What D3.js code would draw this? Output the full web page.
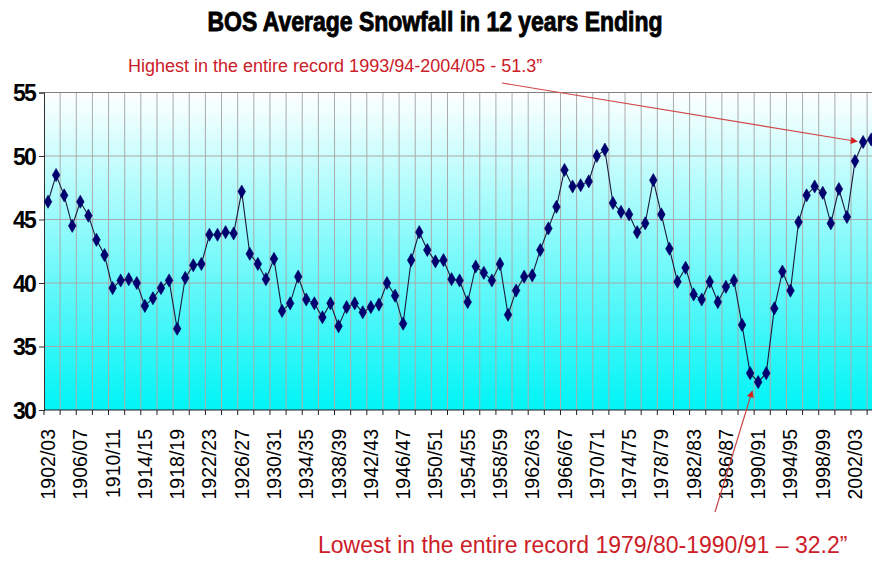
<!DOCTYPE html>
<html>
<head>
<meta charset="utf-8">
<script src="https://cdn.jsdelivr.net/npm/d3@7"></script>
<style>
  html, body { margin: 0; padding: 0; background: #ffffff; }
  svg { display: block; font-family: "Liberation Sans", Arial, sans-serif; }
</style>
</head>
<body>
<svg id="chart" width="872" height="565"></svg>
<script>
// Seasons (12-year window ending in that season)
const seasons = [
  "1902/03","1903/04","1904/05","1905/06","1906/07","1907/08","1908/09","1909/10",
  "1910/11","1911/12","1912/13","1913/14","1914/15","1915/16","1916/17","1917/18",
  "1918/19","1919/20","1920/21","1921/22","1922/23","1923/24","1924/25","1925/26",
  "1926/27","1927/28","1928/29","1929/30","1930/31","1931/32","1932/33","1933/34",
  "1934/35","1935/36","1936/37","1937/38","1938/39","1939/40","1940/41","1941/42",
  "1942/43","1943/44","1944/45","1945/46","1946/47","1947/48","1948/49","1949/50",
  "1950/51","1951/52","1952/53","1953/54","1954/55","1955/56","1956/57","1957/58",
  "1958/59","1959/60","1960/61","1961/62","1962/63","1963/64","1964/65","1965/66",
  "1966/67","1967/68","1968/69","1969/70","1970/71","1971/72","1972/73","1973/74",
  "1974/75","1975/76","1976/77","1977/78","1978/79","1979/80","1980/81","1981/82",
  "1982/83","1983/84","1984/85","1985/86","1986/87","1987/88","1988/89","1989/90",
  "1990/91","1991/92","1992/93","1993/94","1994/95","1995/96","1996/97","1997/98",
  "1998/99","1999/00","2000/01","2001/02","2002/03","2003/04","2004/05"
];

// 12-year average snowfall (inches)
const avgSnowfall = [
  46.4, 48.5, 46.9, 44.5, 46.4, 45.3, 43.4, 42.2, 39.6, 40.2,
  40.3, 40.0, 38.2, 38.8, 39.6, 40.2, 36.4, 40.4, 41.4, 41.5,
  43.8, 43.8, 44.0, 43.9, 47.2, 42.3, 41.5, 40.3, 41.9, 37.8,
  38.4, 40.5, 38.7, 38.4, 37.3, 38.4, 36.6, 38.1, 38.4, 37.7,
  38.1, 38.3, 40.0, 39.0, 36.8, 41.8, 44.0, 42.6, 41.7, 41.8,
  40.3, 40.2, 38.5, 41.3, 40.8, 40.2, 41.5, 37.5, 39.4, 40.5,
  40.6, 42.6, 44.3, 46.0, 48.9, 47.6, 47.7, 48.0, 50.0, 50.5,
  46.3, 45.6, 45.4, 44.0, 44.7, 48.1, 45.4, 42.7, 40.1, 41.2,
  39.1, 38.7, 40.1, 38.5, 39.7, 40.2, 36.7, 32.9, 32.2, 32.9,
  38.0, 40.9, 39.4, 44.8, 46.9, 47.6, 47.1, 44.7, 47.4, 45.2,
  49.6, 51.1, 51.3
];

const yTicks = [30, 35, 40, 45, 50, 55];
const titleText = "BOS Average Snowfall in 12 years Ending";
const highNote = "Highest in the entire record 1993/94-2004/05 - 51.3\u201D";
const lowNote = "Lowest in the entire record 1979/80-1990/91 \u2013 32.2\u201D";
const highSeason = "2004/05";
const lowSeason = "1990/91";

const svg = d3.select("#chart");
const plot = { left: 44, top: 92.5, bottom: 410 };
const bandW = 8.07;

const x = d3.scaleBand()
  .domain(seasons)
  .range([plot.left, plot.left + bandW * seasons.length])
  .paddingInner(0).paddingOuter(0);
const y = d3.scaleLinear().domain([30, 55]).range([plot.bottom, plot.top]);
const cx = s => x(s) + x.bandwidth() / 2;
const plotRight = plot.left + bandW * seasons.length;

// Background gradient: white at top fading into cyan at the base
const defs = svg.append("defs");
const grad = defs.append("linearGradient")
  .attr("id", "bg").attr("x1", 0).attr("y1", 0).attr("x2", 0).attr("y2", 1);
grad.append("stop").attr("offset", "0%").attr("stop-color", "#ffffff");
grad.append("stop").attr("offset", "100%").attr("stop-color", "#00f4f6");

svg.append("rect")
  .attr("x", plot.left).attr("y", plot.top)
  .attr("width", plotRight - plot.left).attr("height", plot.bottom - plot.top)
  .attr("fill", "url(#bg)");

// Vertical gridlines every two seasons
const gridIdx = d3.range(2, seasons.length, 2);
svg.append("g").selectAll("line").data(gridIdx).join("line")
  .attr("x1", i => x(seasons[i])).attr("x2", i => x(seasons[i]))
  .attr("y1", plot.top).attr("y2", plot.bottom)
  .attr("stroke", "#ababab").attr("stroke-width", 1);

// Horizontal gridlines
svg.append("g").selectAll("line").data(yTicks.filter(t => t > 30)).join("line")
  .attr("x1", plot.left).attr("x2", plotRight)
  .attr("y1", d => y(d)).attr("y2", d => y(d))
  .attr("stroke", d => d === 55 ? "#808080" : "#a8a8a8").attr("stroke-width", 1);

// Y axis
const yAxis = d3.axisLeft(y).tickValues(yTicks).tickSize(5).tickPadding(4);
const gy = svg.append("g").attr("transform", `translate(${plot.left},0)`).call(yAxis);
gy.select(".domain").attr("stroke", "#303030");
gy.selectAll(".tick line").attr("stroke", "#303030");
gy.selectAll(".tick text")
  .attr("fill", "#000")
  .style("font-size", "23px").style("font-weight", "bold")
  .style("letter-spacing", "-1.8px")
  .attr("dy", "0.36em");

// X axis: tick marks every two seasons, labels every four
const tickSeasons = seasons.filter((s, i) => i % 2 === 0);
const gx = svg.append("g").attr("transform", `translate(0,${plot.bottom})`);
gx.append("line")
  .attr("x1", plot.left).attr("x2", plotRight)
  .attr("stroke", "#202020").attr("stroke-width", 1.2);
gx.selectAll("line.tk").data(tickSeasons).join("line").attr("class", "tk")
  .attr("x1", d => x(d)).attr("x2", d => x(d))
  .attr("y1", 0).attr("y2", 5)
  .attr("stroke", "#202020");
gx.selectAll("text").data(seasons.filter((s, i) => i % 4 === 0)).join("text")
  .attr("transform", d => `translate(${cx(d) + 7},19) rotate(-90)`)
  .attr("text-anchor", "end")
  .attr("fill", "#000")
  .style("font-size", "19.5px")
  .text(d => d);

// Series line and diamond markers
const pts = seasons.map((s, i) => ({ s, v: avgSnowfall[i] }));
svg.append("path")
  .datum(pts)
  .attr("d", d3.line().x(d => cx(d.s)).y(d => y(d.v)))
  .attr("fill", "none").attr("stroke", "#1a1a3a").attr("stroke-width", 1.1);

const diamond = d3.symbol().type(d3.symbolDiamond).size(50);
svg.append("g").selectAll("path").data(pts).join("path")
  .attr("transform", d => `translate(${cx(d.s)},${y(d.v)})`)
  .attr("d", diamond)
  .attr("fill", "#000070").attr("stroke", "#000060").attr("stroke-width", 0.6);

// Title (heavy, tightly set)
svg.append("text")
  .attr("x", 435).attr("y", 31)
  .attr("text-anchor", "middle")
  .attr("textLength", 455).attr("lengthAdjust", "spacingAndGlyphs")
  .style("font-size", "27px").style("font-weight", "bold")
  .attr("fill", "#000").attr("stroke", "#000").attr("stroke-width", 0.9)
  .text(titleText);

// Annotations with arrows
const red = "#cc2028";
const mk = defs.append("marker")
  .attr("id", "arrow").attr("viewBox", "0 0 10 10")
  .attr("refX", 9).attr("refY", 5)
  .attr("markerWidth", 9).attr("markerHeight", 7)
  .attr("markerUnits", "userSpaceOnUse")
  .attr("orient", "auto");
mk.append("path").attr("d", "M0,0 L10,5 L0,10 Z").attr("fill", "#d42020");

const highIdx = seasons.indexOf(highSeason);
const lowIdx = seasons.indexOf(lowSeason);

svg.append("text")
  .attr("x", 128).attr("y", 72)
  .attr("fill", red)
  .style("font-size", "18px")
  .text(highNote);
svg.append("line")
  .attr("x1", 502).attr("y1", 83)
  .attr("x2", cx(seasons[highIdx - 1]) - 6).attr("y2", y(avgSnowfall[highIdx]) + 2)
  .attr("stroke", "#d04848").attr("stroke-width", 1.2)
  .attr("marker-end", "url(#arrow)");

svg.append("text")
  .attr("x", 318).attr("y", 553)
  .attr("fill", red)
  .style("font-size", "23px")
  .text(lowNote);
svg.append("line")
  .attr("x1", 715).attr("y1", 512)
  .attr("x2", cx(seasons[lowIdx]) - 6).attr("y2", y(avgSnowfall[lowIdx]) + 9)
  .attr("stroke", "#c84040").attr("stroke-width", 1.2)
  .attr("marker-end", "url(#arrow)");
</script>
</body>
</html>
